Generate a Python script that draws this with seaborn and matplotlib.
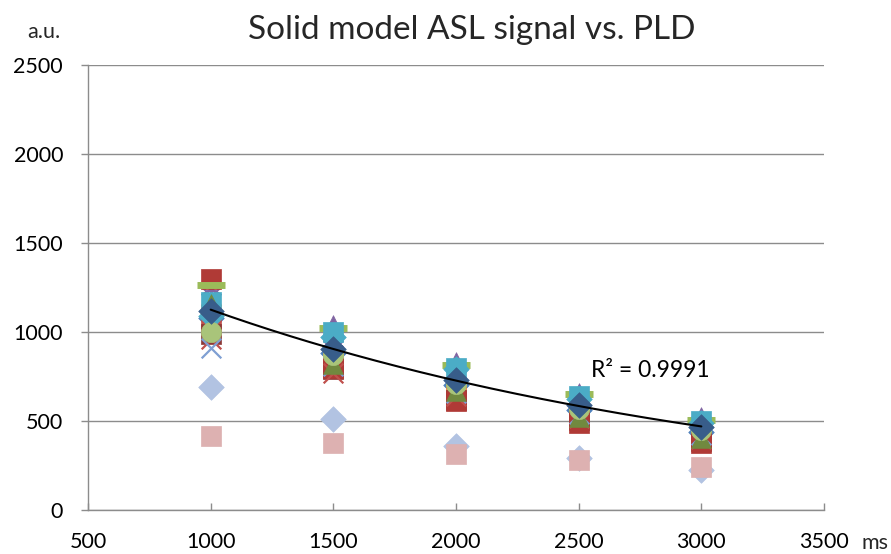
import numpy as np
import pandas as pd
import matplotlib
matplotlib.use("Agg")
import matplotlib.pyplot as plt
import seaborn as sns

pld = [1000, 1500, 2000, 2500, 3000]

# series values at each PLD
s01 = [1080, 880, 700, 560, 440]
s02 = [1050, 830, 650, 530, 410]
s03 = [1180, 1040, 830, 660, 525]
s04 = [1200, 900, 740, 600, 470]
s05 = [1240, 950, 770, 610, 480]
s06 = [1140, 860, 690, 550, 430]
s07 = [990, 790, 620, 505, 390]
s08 = [1265, 1025, 815, 650, 505]
s09 = [1295, 800, 610, 490, 375]
s10 = [960, 770, 640, 515, 400]
s11 = [1170, 1000, 800, 640, 500]
s12 = [1090, 970, 790, 625, 490]
s13 = [690, 510, 360, 290, 225]
s14 = [415, 375, 315, 280, 240]
s15 = [910, 810, 660, 540, 420]
s16 = [1160, 820, 670, 520, 405]
s17 = [1000, 870, 710, 570, 450]
s18 = [1120, 905, 730, 590, 465]

series = [
    ("S13", "#B2C3E2", "D", s13),
    ("S14", "#DDB1B1", "s", s14),
    ("S01", "#4F81BD", "D", s01),
    ("S02", "#C0504D", "s", s02),
    ("S03", "#8064A2", "^", s03),
    ("S04", "#8064A2", "x", s04),
    ("S05", "#8064A2", "*", s05),
    ("S06", "#F79646", "o", s06),
    ("S07", "#8C3836", "s", s07),
    ("S09", "#B03A36", "s", s09),
    ("S08", "#9BBB59", "_", s08),
    ("S10", "#C0504D", "x", s10),
    ("S11", "#4BACC6", "s", s11),
    ("S12", "#4BACC6", "D", s12),
    ("S15", "#7F9FD3", "x", s15),
    ("S16", "#71893F", "^", s16),
    ("S17", "#A9C47A", "o", s17),
    ("S18", "#385D8A", "D", s18),
]

sns.set_theme(style="white")
plt.rcParams["font.family"] = ["Lato", "DejaVu Sans"]

fig = plt.figure(figsize=(8.91, 5.54), dpi=100)
ax = fig.add_axes([0.0988, 0.0794, 0.8260, 0.8033])

for name, col, mk, vals in series:
    df = pd.DataFrame({"PLD": pld, "signal": vals})
    if mk == "*":
        sns.scatterplot(data=df, x="PLD", y="signal", ax=ax, marker=(6, 2, 0),
                        s=220, color=col, linewidth=1.6, zorder=3)
    elif mk == "_":
        sns.scatterplot(data=df, x="PLD", y="signal", ax=ax, marker="_",
                        s=380, color=col, linewidth=5, zorder=3)
    elif mk in ("x", "+"):
        sns.scatterplot(data=df, x="PLD", y="signal", ax=ax, marker=mk,
                        s=200, color=col, linewidth=1.6, zorder=3)
    else:
        size = {"o": 210, "D": 170, "s": 200, "^": 200}[mk]
        sns.scatterplot(data=df, x="PLD", y="signal", ax=ax, marker=mk,
                        s=size, color=col, edgecolor=col, linewidth=0.5, zorder=3)

# exponential trendline fitted to the mean series
x = np.array(pld, dtype=float)
y = np.array(s18, dtype=float)
b, a = np.polyfit(x, np.log(y), 1)
xf = np.linspace(x.min(), x.max(), 200)
ax.plot(xf, np.exp(a) * np.exp(b * xf), color="black", lw=1.5, zorder=4)
ax.text(2550, 785, "R² = 0.9991", fontsize=16.5, va="center", ha="left", color="black")

ax.set_xlim(500, 3500)
ax.set_ylim(0, 2500)
ax.set_xticks(range(500, 3501, 500))
ax.set_yticks(range(0, 2501, 500))
ax.yaxis.grid(True, color="#8C8C8C", lw=1)
ax.set_axisbelow(True)
ax.tick_params(axis="y", labelsize=15.5, labelcolor="black", color="#8C8C8C",
               length=5, width=1, direction="out", left=True, pad=13)
ax.tick_params(axis="x", labelsize=15.5, labelcolor="black", color="#8C8C8C",
               length=5, width=1, direction="in", bottom=True, pad=16)
for sp in ["top", "right"]:
    ax.spines[sp].set_visible(False)
for sp in ["left", "bottom"]:
    ax.spines[sp].set_color("#8C8C8C")
    ax.spines[sp].set_linewidth(1)
ax.set_xlabel("")
ax.set_ylabel("")
fig.text(0.529, 0.946, "Solid model ASL signal vs. PLD", fontsize=24,
         ha="center", va="center")
fig.text(0.049, 0.942, "a.u.", fontsize=15.5, ha="center", va="center")
fig.text(0.967, 0.020, "ms", fontsize=15.5, ha="left", va="center")

fig.savefig("out.png", dpi=100)
